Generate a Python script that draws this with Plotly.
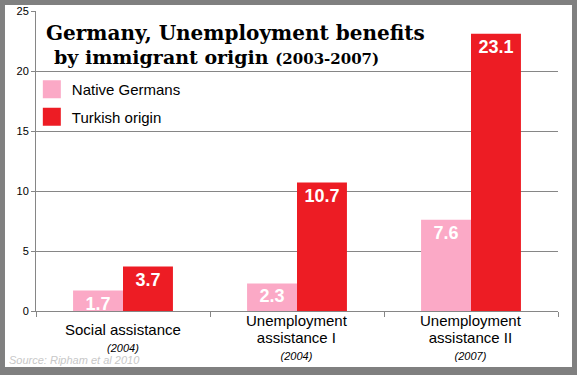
import plotly.graph_objects as go

categories = ["Social assistance", "Unemployment assistance I", "Unemployment assistance II"]
label_main = ["Social assistance", "Unemployment<br>assistance I", "Unemployment<br>assistance II"]
label_year = ["(2004)", "(2004)", "(2007)"]
native = [1.7, 2.3, 7.6]
turkish = [3.7, 10.7, 23.1]
series_names = ["Native Germans", "Turkish origin"]
y_ticks = [0, 5, 10, 15, 20, 25]

PINK = "#FBA9C6"
RED = "#ED1C24"
GRID = "#868686"

fig = go.Figure()
for i, (name, vals, col) in enumerate([(series_names[0], native, PINK), (series_names[1], turkish, RED)]):
    fig.add_trace(go.Bar(
        x=categories, y=vals, name=name, marker=dict(color=col, line=dict(width=0)),
        text=[f"{v:.1f}" for v in vals], textposition="inside", insidetextanchor="end",
        constraintext="none", textangle=0,
        textfont=dict(family="Liberation Sans", size=18, color="white", weight="bold"),
        showlegend=False, hoverinfo="skip"))
    fig.add_trace(go.Scatter(
        x=[None], y=[None], mode="markers", name=name, legendgroup=f"g{i}",
        marker=dict(symbol="square", size=16, color=col, line=dict(color=col, width=2))))

for cat, m, yr in zip(categories, label_main, label_year):
    fig.add_annotation(
        x=cat, xref="x", y=-0.087, yref="paper", yanchor="middle", xanchor="center",
        showarrow=False, align="center",
        text=f"<span style='font-size:15px'>{m}</span><br><span style='font-size:11px'><i>{yr}</i></span>",
        font=dict(family="Liberation Sans", size=13, color="#000000"))

fig.add_annotation(x=0.0153, y=0.927, xref="paper", yref="paper", xanchor="left", yanchor="middle",
                   showarrow=False, text="<b>Germany, Unemployment benefits</b>",
                   font=dict(family="DejaVu Serif", size=20, color="#000000"))
fig.add_annotation(x=0.0307, y=0.847, xref="paper", yref="paper", xanchor="left", yanchor="middle",
                   showarrow=False,
                   text="<b>by immigrant origin </b><b><span style='font-size:15px'>(2003-2007)</span></b>",
                   font=dict(family="DejaVu Serif", size=19, color="#000000"))
fig.add_annotation(x=-0.055, y=-0.163, xref="paper", yref="paper", xanchor="left", yanchor="middle",
                   showarrow=False, text="<i>Source: Ripham et al 2010</i>",
                   font=dict(family="Liberation Sans", size=11, color="#C8C8C8"))

fig.add_shape(type="rect", xref="paper", yref="paper", x0=-0.0594, x1=1.0268, y0=-0.1867, y1=1.02,
              fillcolor="white", line=dict(width=0), layer="below")

fig.update_layout(
    template="none",
    width=577, height=375, autosize=False,
    margin=dict(l=36, r=19, t=11, b=64, pad=0, autoexpand=False),
    paper_bgcolor="#808080", plot_bgcolor="rgba(0,0,0,0)",
    barmode="group", bargap=0.426, bargroupgap=0,
    legend=dict(x=-0.008, y=0.793, xanchor="left", yanchor="top", bgcolor="rgba(0,0,0,0)",
                font=dict(family="Liberation Sans", size=15, color="#000000"),
                itemsizing="trace", traceorder="grouped", tracegroupgap=5),
    xaxis=dict(automargin=False, showline=True, linecolor=GRID, linewidth=1, ticks="outside",
               tickson="boundaries", ticklen=5, tickcolor=GRID, showticklabels=False, showgrid=False),
    yaxis=dict(automargin=False, range=[0, 25], tickvals=y_ticks, showline=True, linecolor=GRID,
               linewidth=1, ticks="outside", ticklen=4, tickcolor=GRID, showgrid=True,
               gridcolor=GRID, gridwidth=1, zeroline=False,
               tickfont=dict(family="Liberation Sans", size=11, color="#000000")),
)

fig.write_html("out.html", config={"displayModeBar": False},
               post_script="document.body.style.margin='0px';")
